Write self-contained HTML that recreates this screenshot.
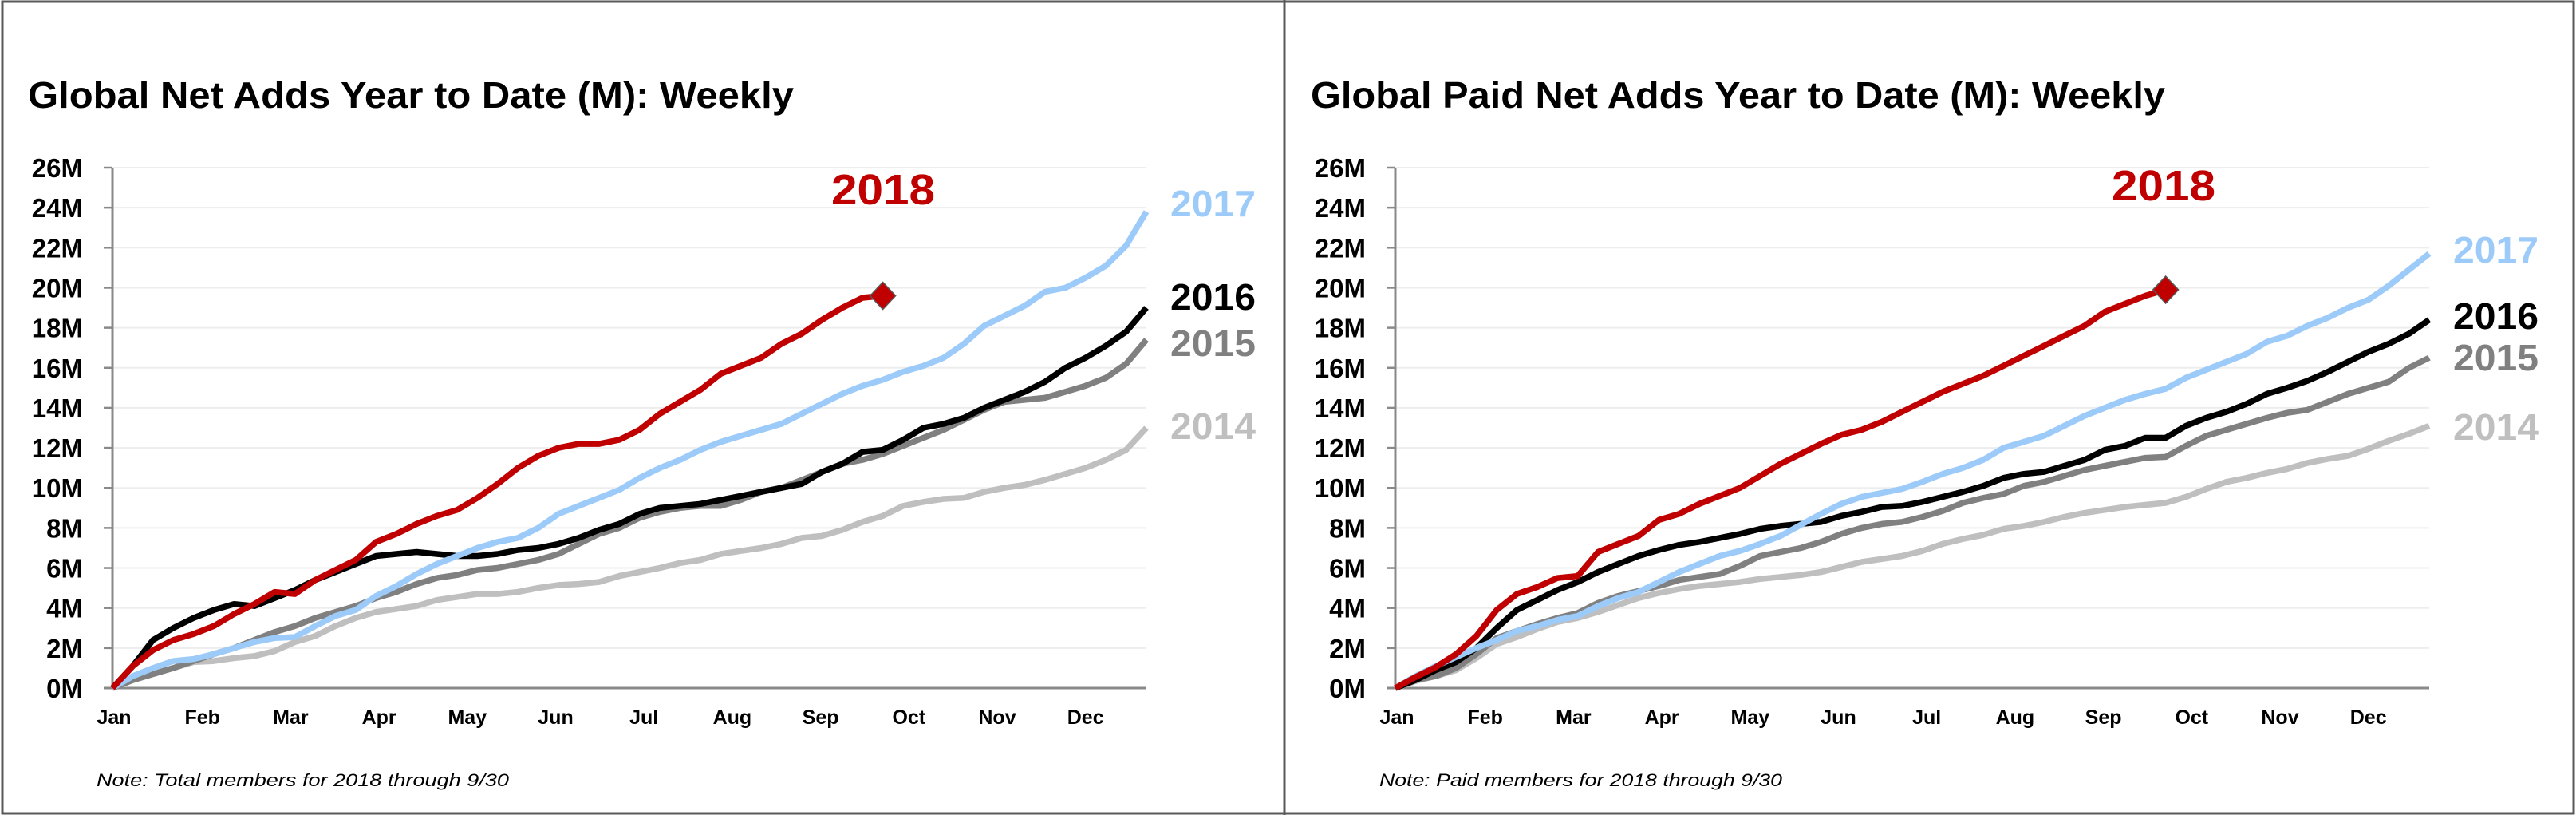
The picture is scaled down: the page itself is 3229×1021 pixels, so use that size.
<!DOCTYPE html>
<html><head><meta charset="utf-8">
<style>
html,body{margin:0;padding:0;background:#fff;}
svg{display:block;}
text{font-family:"Liberation Sans",sans-serif;}
</style></head>
<body>
<svg id="root" width="3229" height="1021" viewBox="0 0 3229 1021" xmlns="http://www.w3.org/2000/svg">
<rect x="0" y="0" width="3229" height="1021" fill="#fff"/>
<rect x="3" y="2" width="3223" height="1017" fill="none" stroke="#595959" stroke-width="3"/>
<line x1="1610" y1="0" x2="1610" y2="1021" stroke="#595959" stroke-width="3"/>
<g id="panelL"></g>
<g id="panelR"></g>
</svg>
<script>
const months = ["Jan","Feb","Mar","Apr","May","Jun","Jul","Aug","Sep","Oct","Nov","Dec"];
const yTicks = [0,2,4,6,8,10,12,14,16,18,20,22,24,26];
const seriesYears = ["2014","2015","2016","2017","2018"];

// Left chart: Global Net Adds YTD (M), weekly
const total2014 = [0,0.4,0.7,1.0,1.3,1.35,1.5,1.6,1.85,2.3,2.6,3.1,3.5,3.8,3.95,4.1,4.4,4.55,4.7,4.7,4.8,5.0,5.15,5.2,5.3,5.6,5.8,6.0,6.25,6.4,6.7,6.85,7.0,7.2,7.5,7.6,7.9,8.3,8.6,9.1,9.3,9.45,9.5,9.8,10.0,10.15,10.4,10.7,11.0,11.4,11.9,13.0];
const total2015 = [0,0.4,0.7,1.0,1.35,1.7,2.0,2.4,2.8,3.1,3.5,3.8,4.1,4.5,4.8,5.2,5.5,5.65,5.9,6.0,6.2,6.4,6.7,7.2,7.7,8.0,8.5,8.8,9.0,9.1,9.1,9.4,9.8,10.0,10.4,10.8,11.2,11.4,11.7,12.1,12.5,12.9,13.4,13.9,14.3,14.4,14.5,14.8,15.1,15.5,16.2,17.4];
const total2016 = [0,1.1,2.4,3.0,3.5,3.9,4.2,4.1,4.5,4.9,5.4,5.8,6.2,6.6,6.7,6.8,6.7,6.6,6.6,6.7,6.9,7.0,7.2,7.5,7.9,8.2,8.7,9.0,9.1,9.2,9.4,9.6,9.8,10.0,10.2,10.8,11.2,11.8,11.9,12.4,13.0,13.2,13.5,14.0,14.4,14.8,15.3,16.0,16.5,17.1,17.8,19.0];
const total2017 = [0,0.6,1.0,1.35,1.45,1.7,2.0,2.3,2.5,2.55,3.1,3.6,3.9,4.6,5.1,5.7,6.2,6.6,7.0,7.3,7.5,8.0,8.7,9.1,9.5,9.9,10.5,11.0,11.4,11.9,12.3,12.6,12.9,13.2,13.7,14.2,14.7,15.1,15.4,15.8,16.1,16.5,17.2,18.1,18.6,19.1,19.8,20.0,20.5,21.1,22.1,23.8];
const total2018 = [0,1.1,1.9,2.4,2.7,3.1,3.7,4.2,4.8,4.7,5.4,5.9,6.4,7.3,7.7,8.2,8.6,8.9,9.5,10.2,11.0,11.6,12.0,12.2,12.2,12.4,12.9,13.7,14.3,14.9,15.7,16.1,16.5,17.2,17.7,18.4,19.0,19.5,19.6];

// Right chart: Global Paid Net Adds YTD (M), weekly
const paid2014 = [0,0.35,0.6,0.9,1.5,2.2,2.55,2.95,3.3,3.5,3.8,4.15,4.5,4.75,4.95,5.1,5.2,5.3,5.45,5.55,5.65,5.8,6.05,6.3,6.45,6.6,6.85,7.2,7.45,7.65,7.95,8.1,8.3,8.55,8.75,8.9,9.05,9.15,9.25,9.55,9.95,10.3,10.5,10.75,10.95,11.25,11.45,11.6,11.95,12.35,12.7,13.1];
const paid2015 = [0,0.4,0.6,1.0,1.7,2.5,2.85,3.2,3.5,3.75,4.25,4.6,4.85,5.1,5.4,5.55,5.7,6.1,6.6,6.8,7.0,7.3,7.7,8.0,8.2,8.3,8.55,8.85,9.25,9.5,9.7,10.1,10.3,10.6,10.9,11.1,11.3,11.5,11.55,12.1,12.6,12.9,13.2,13.5,13.75,13.9,14.3,14.7,15.0,15.3,16.0,16.5];
const paid2016 = [0,0.4,0.9,1.3,2.0,3.0,3.9,4.4,4.9,5.3,5.8,6.2,6.6,6.9,7.15,7.3,7.5,7.7,7.95,8.1,8.2,8.3,8.6,8.8,9.05,9.1,9.3,9.55,9.8,10.1,10.5,10.7,10.8,11.1,11.4,11.9,12.1,12.5,12.5,13.1,13.5,13.8,14.2,14.7,15.0,15.35,15.8,16.3,16.8,17.2,17.7,18.4];
const paid2017 = [0,0.6,1.1,1.55,2.0,2.4,2.85,3.1,3.4,3.6,4.1,4.5,4.8,5.3,5.8,6.2,6.6,6.85,7.2,7.6,8.15,8.7,9.2,9.55,9.75,9.95,10.3,10.7,11.0,11.4,12.0,12.3,12.6,13.1,13.6,14.0,14.4,14.7,14.95,15.5,15.9,16.3,16.7,17.3,17.6,18.1,18.5,19.0,19.4,20.1,20.9,21.7];
const paid2018 = [0,0.55,1.05,1.7,2.6,3.9,4.7,5.05,5.5,5.6,6.8,7.2,7.6,8.4,8.7,9.2,9.6,10.0,10.6,11.2,11.7,12.2,12.65,12.9,13.3,13.8,14.3,14.8,15.2,15.6,16.1,16.6,17.1,17.6,18.1,18.8,19.2,19.6,19.9];

const NS = "http://www.w3.org/2000/svg";
function mk(parent, tag, attrs, txt){
  const e = document.createElementNS(NS, tag);
  for (const k in attrs) e.setAttribute(k, attrs[k]);
  if (txt !== undefined) e.textContent = txt;
  parent.appendChild(e);
  return e;
}

function drawPanel(g, off, cfg){
  const x0 = 141 + off, x1 = 1437 + off, yB = 862, yT = 210;
  const nW = 51;
  const xS = w => x0 + (x1 - x0) * w / nW;
  const yS = v => yB - (yB - yT) * v / 26;

  const title = mk(g, "text", {x: 35 + off, y: 135, "font-size": 46, "font-weight": "bold", fill: "#000", textLength: cfg.titleLen, lengthAdjust: "spacingAndGlyphs"}, cfg.title);
  
  

  // gridlines & y ticks
  yTicks.forEach(t => {
    const y = yS(t);
    if (t > 0) {
      const gl = mk(g, "line", {x1: x0, y1: y, x2: x1, y2: y, stroke: "#EDEDED", "stroke-width": 2});
      
      
    }
    const tk = mk(g, "line", {x1: x0 - 11, y1: y, x2: x0, y2: y, stroke: "#898989", "stroke-width": 2.5});
    
    
    const lb = mk(g, "text", {x: cfg.yLabelX + off, y: y + 12, "font-size": 33, "font-weight": "bold", "text-anchor": "end", fill: "#000"}, t + "M");
    
    
  });
  const ya = mk(g, "line", {x1: x0, y1: yT, x2: x0, y2: yB, stroke: "#898989", "stroke-width": 3});
  
  
  const xa = mk(g, "line", {x1: x0 - 11, y1: yB, x2: x1, y2: yB, stroke: "#898989", "stroke-width": 3});
  
  

  months.forEach((m, i) => {
    const t = mk(g, "text", {x: 143 + off + 110.7 * i, y: 907, "font-size": 25, "font-weight": "bold", "text-anchor": "middle", fill: "#000"}, m);
    
    
  });

  const colors = {"2014": "#BFBFBF", "2015": "#808080", "2016": "#000000", "2017": "#9DCBF9", "2018": "#C00000"};
  seriesYears.forEach((yr, si) => {
    const data = cfg.data[si];
    const pts = data.map((v, w) => xS(w).toFixed(1) + "," + yS(v).toFixed(1)).join(" ");
    const pl = mk(g, "polyline", {points: pts, fill: "none", stroke: colors[yr], "stroke-width": 7.5, "stroke-linejoin": "round"});
    
    
  });
  const d18 = cfg.data[4];
  const dx = xS(d18.length - 1), dy = yS(d18[d18.length - 1]);
  const dm = mk(g, "polygon", {points: `${dx},${dy-17} ${dx+16},${dy} ${dx},${dy+17} ${dx-16},${dy}`, fill: "#C00000", stroke: "#595959", "stroke-width": 1.5});
  
  

  cfg.labels.forEach(L => {
    const t = mk(g, "text", {x: L.x + off, y: L.y, "font-size": L.fs, "font-weight": "bold", fill: colors[L.yr], textLength: L.w, lengthAdjust: "spacingAndGlyphs"}, L.yr);
    
    
  });

  const note = mk(g, "text", {x: 121 + off, y: 985, "font-size": 22, "font-style": "italic", fill: "#000", textLength: cfg.noteLen, lengthAdjust: "spacingAndGlyphs"}, cfg.note);
  
  
}

drawPanel(document.getElementById("panelL"), 0, {
  title: "Global Net Adds Year to Date (M): Weekly", titleLen: 960, yLabelX: 104,
  note: "Note: Total members for 2018 through 9/30", noteLen: 517,
  data: [total2014, total2015, total2016, total2017, total2018],
  labels: [
    {yr: "2018", x: 1042, y: 256, fs: 54, w: 130},
    {yr: "2017", x: 1467, y: 271, fs: 46, w: 107},
    {yr: "2016", x: 1467, y: 388, fs: 46, w: 107},
    {yr: "2015", x: 1467, y: 446, fs: 46, w: 107},
    {yr: "2014", x: 1467, y: 550, fs: 46, w: 107}
  ]
});
drawPanel(document.getElementById("panelR"), 1608, {
  title: "Global Paid Net Adds Year to Date (M): Weekly", titleLen: 1071, yLabelX: 104,
  note: "Note: Paid members for 2018 through 9/30", noteLen: 505,
  data: [paid2014, paid2015, paid2016, paid2017, paid2018],
  labels: [
    {yr: "2018", x: 1039, y: 251, fs: 54, w: 130},
    {yr: "2017", x: 1467, y: 329, fs: 46, w: 107},
    {yr: "2016", x: 1467, y: 412, fs: 46, w: 107},
    {yr: "2015", x: 1467, y: 464, fs: 46, w: 107},
    {yr: "2014", x: 1467, y: 551, fs: 46, w: 107}
  ]
});
</script>
</body></html>
